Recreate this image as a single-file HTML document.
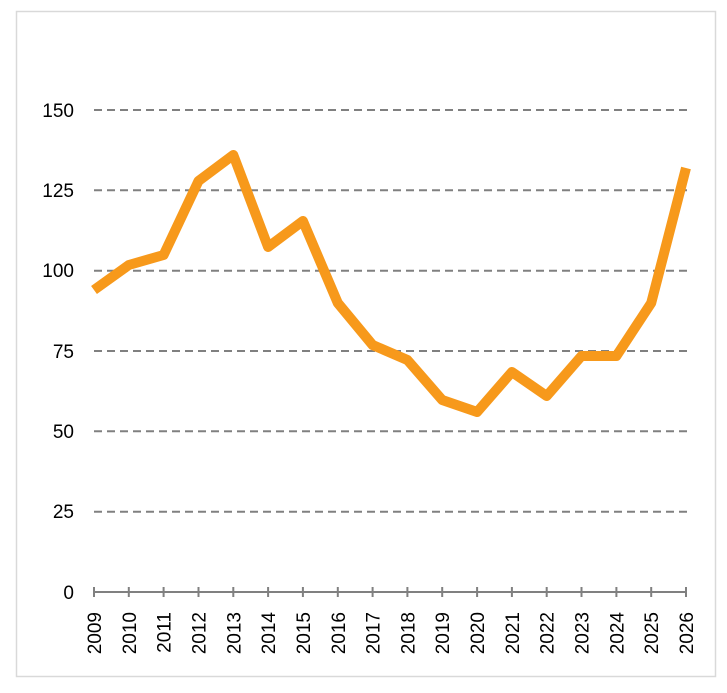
<!DOCTYPE html><html><head><style>body{margin:0;background:#fff}</style></head><body>
<svg width="727" height="688" xmlns="http://www.w3.org/2000/svg" font-family="Liberation Sans, sans-serif">
<rect x="16.5" y="11.5" width="699" height="665" fill="#fff" stroke="#d9d9d9" stroke-width="1.5"/>
<g stroke="#808080" stroke-width="2" stroke-dasharray="8,5">
<line x1="94" x2="687" y1="110" y2="110"/><line x1="94" x2="687" y1="190.3" y2="190.3"/><line x1="94" x2="687" y1="270.7" y2="270.7"/><line x1="94" x2="687" y1="351" y2="351"/><line x1="94" x2="687" y1="431.3" y2="431.3"/><line x1="94" x2="687" y1="511.7" y2="511.7"/>
</g>
<g font-size="19" fill="#000" text-anchor="end">
<text x="74" y="117">150</text><text x="74" y="197">125</text><text x="74" y="277">100</text><text x="74" y="358">75</text><text x="74" y="438">50</text><text x="74" y="518">25</text><text x="74" y="599">0</text>
</g>
<g stroke="#808080" stroke-width="2">
<line x1="94" x2="687" y1="592" y2="592"/>
<path d="M94 587v10M128.8 587v10M163.6 587v10M198.5 587v10M233.3 587v10M268.1 587v10M302.9 587v10M337.8 587v10M372.6 587v10M407.4 587v10M442.2 587v10M477.1 587v10M511.9 587v10M546.7 587v10M581.5 587v10M616.4 587v10M651.2 587v10M686 587v10"/>
</g>
<g font-size="19" fill="#000" text-anchor="end">
<text transform="translate(101,612) rotate(-90)">2009</text><text transform="translate(135.8,612) rotate(-90)">2010</text><text transform="translate(170.6,612) rotate(-90)">2011</text><text transform="translate(205.5,612) rotate(-90)">2012</text><text transform="translate(240.3,612) rotate(-90)">2013</text><text transform="translate(275.1,612) rotate(-90)">2014</text><text transform="translate(309.9,612) rotate(-90)">2015</text><text transform="translate(344.8,612) rotate(-90)">2016</text><text transform="translate(379.6,612) rotate(-90)">2017</text><text transform="translate(414.4,612) rotate(-90)">2018</text><text transform="translate(449.2,612) rotate(-90)">2019</text><text transform="translate(484.1,612) rotate(-90)">2020</text><text transform="translate(518.9,612) rotate(-90)">2021</text><text transform="translate(553.7,612) rotate(-90)">2022</text><text transform="translate(588.5,612) rotate(-90)">2023</text><text transform="translate(623.4,612) rotate(-90)">2024</text><text transform="translate(658.2,612) rotate(-90)">2025</text><text transform="translate(693,612) rotate(-90)">2026</text>
</g>
<polyline fill="none" stroke="#F7991B" stroke-width="10" stroke-linejoin="round" stroke-linecap="butt" points="94,290 128.8,265 163.6,255 198.5,181 233.3,155 268.1,247 302.9,221 337.8,303 372.6,345 407.4,360 442.2,400 477.1,412 511.9,372 546.7,396 581.5,356 616.4,356 651.2,303 686,168"/>
</svg>
</body></html>
